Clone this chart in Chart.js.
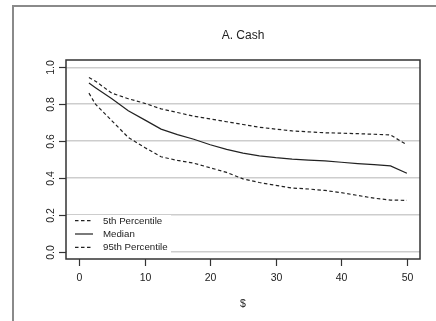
<!DOCTYPE html>
<html>
<head>
<meta charset="utf-8">
<script src="https://cdn.jsdelivr.net/npm/chart.js@4/dist/chart.umd.min.js"></script>
<style>
  html, body { margin: 0; padding: 0; background: #fff; }
  canvas { display: block; }
</style>
</head>
<body>
<canvas id="myChart" width="436" height="321"></canvas>
<script>
// dollar amounts on the x axis
const amounts = [1.5, 2.5, 5, 7.5, 10, 12.5, 15, 17.5, 20, 22.5, 25, 27.5, 30, 32.5, 35, 37.5, 40, 42.5, 45, 47.5, 50];

const pct5 = [0.86, 0.80, 0.71, 0.62, 0.565, 0.515, 0.495, 0.48, 0.455, 0.43, 0.395, 0.375, 0.36, 0.345, 0.34, 0.332, 0.32, 0.305, 0.29, 0.28, 0.278];
const median = [0.915, 0.89, 0.83, 0.765, 0.715, 0.665, 0.635, 0.61, 0.58, 0.555, 0.535, 0.52, 0.51, 0.502, 0.497, 0.493, 0.485, 0.478, 0.472, 0.465, 0.425];
const pct95 = [0.945, 0.925, 0.86, 0.83, 0.805, 0.775, 0.755, 0.735, 0.72, 0.705, 0.69, 0.675, 0.665, 0.655, 0.65, 0.645, 0.643, 0.64, 0.637, 0.633, 0.58];

const seriesNames = ["5th Percentile", "Median", "95th Percentile"];
const xTicks = [0, 10, 20, 30, 40, 50];
const yTicks = [0.0, 0.2, 0.4, 0.6, 0.8, 1.0];
const yTickLabels = ["0.0", "0.2", "0.4", "0.6", "0.8", "1.0"];
const chartTitle = "A. Cash";
const xTitle = "$";

const ink = "#222";
const fontName = "'Liberation Sans', Arial, sans-serif";

function toPoints(values) {
  return amounts.map((a, i) => ({ x: a, y: values[i] }));
}

function lineSet(label, values, dash) {
  return {
    label: label,
    data: toPoints(values),
    borderColor: ink,
    borderWidth: 1.2,
    borderDash: dash,
    pointRadius: 0,
    tension: 0,
    fill: false,
  };
}

// frame, box, ticks, labels and title in R style
const rStyle = {
  id: "rStyle",
  beforeDraw(chart) {
    const ctx = chart.ctx;
    ctx.save();
    ctx.fillStyle = "#fff";
    ctx.fillRect(0, 0, chart.width, chart.height);
    ctx.strokeStyle = "#8a8a8a";
    ctx.lineWidth = 2;
    ctx.beginPath();
    ctx.moveTo(13, chart.height);
    ctx.lineTo(13, 6);
    ctx.lineTo(chart.width, 6);
    ctx.stroke();
    ctx.restore();
  },
  afterDatasetsDraw(chart) {
    // legend in the bottom left corner
    const ctx = chart.ctx;
    const area = chart.chartArea;
    ctx.save();
    ctx.fillStyle = "#fff";
    ctx.fillRect(area.left + 1, 215, 104, area.bottom - 215);
    ctx.font = "9.7px " + fontName;
    ctx.textBaseline = "middle";
    ctx.textAlign = "left";
    const rows = [220.7, 234, 247.3];
    chart.data.datasets.forEach((ds, i) => {
      ctx.strokeStyle = ink;
      ctx.lineWidth = 1.2;
      ctx.setLineDash(ds.borderDash || []);
      ctx.beginPath();
      ctx.moveTo(75, rows[i]);
      ctx.lineTo(93, rows[i]);
      ctx.stroke();
      ctx.setLineDash([]);
      ctx.fillStyle = ink;
      ctx.fillText(ds.label, 103, rows[i] + 0.5);
    });
    ctx.restore();
  },
  afterDraw(chart) {
    const ctx = chart.ctx;
    const area = chart.chartArea;
    const xs = chart.scales.x;
    const ys = chart.scales.y;
    ctx.save();
    ctx.strokeStyle = "#333";
    ctx.lineWidth = 1.5;
    ctx.strokeRect(area.left, area.top, area.right - area.left, area.bottom - area.top);

    ctx.fillStyle = ink;
    ctx.font = "10.5px " + fontName;
    ctx.lineWidth = 1.2;
    ctx.textAlign = "center";
    ctx.textBaseline = "middle";
    xTicks.forEach((v) => {
      const px = Math.round(xs.getPixelForValue(v)) + 0.5;
      ctx.beginPath();
      ctx.moveTo(px, area.bottom);
      ctx.lineTo(px, area.bottom + 7);
      ctx.stroke();
      ctx.fillText(String(v), px, 278);
    });
    yTicks.forEach((v, i) => {
      const py = Math.round(ys.getPixelForValue(v)) + 0.5;
      ctx.beginPath();
      ctx.moveTo(area.left - 7, py);
      ctx.lineTo(area.left, py);
      ctx.stroke();
      ctx.save();
      ctx.translate(51, py);
      ctx.rotate(-Math.PI / 2);
      ctx.fillText(yTickLabels[i], 0, 0);
      ctx.restore();
    });
    ctx.fillText(xTitle, (area.left + area.right) / 2, 304);
    ctx.font = "12px " + fontName;
    ctx.fillText(chartTitle, (area.left + area.right) / 2, 36);
    ctx.restore();
  },
};

const config = {
  type: "line",
  data: {
    datasets: [
      lineSet(seriesNames[0], pct5, [3.5, 2.5]),
      lineSet(seriesNames[1], median, []),
      lineSet(seriesNames[2], pct95, [3.5, 2.5]),
    ],
  },
  options: {
    responsive: false,
    animation: false,
    layout: {
      padding: { left: 66, right: 16, top: 60, bottom: 62 },
    },
    plugins: {
      legend: { display: false },
      tooltip: { enabled: false },
    },
    scales: {
      x: {
        type: "linear",
        min: -2,
        max: 52,
        display: false,
      },
      y: {
        type: "linear",
        min: -0.04,
        max: 1.04,
        afterBuildTicks: (axis) => {
          axis.ticks = yTicks.map((v) => ({ value: v }));
        },
        afterFit: (axis) => {
          axis.width = 0;
        },
        ticks: { display: false },
        border: { display: false },
        grid: {
          color: "#cdcdcd",
          lineWidth: 1.5,
          drawTicks: false,
        },
      },
    },
  },
  plugins: [rStyle],
};

const myChart = new Chart(document.getElementById("myChart"), config);
</script>
</body>
</html>
